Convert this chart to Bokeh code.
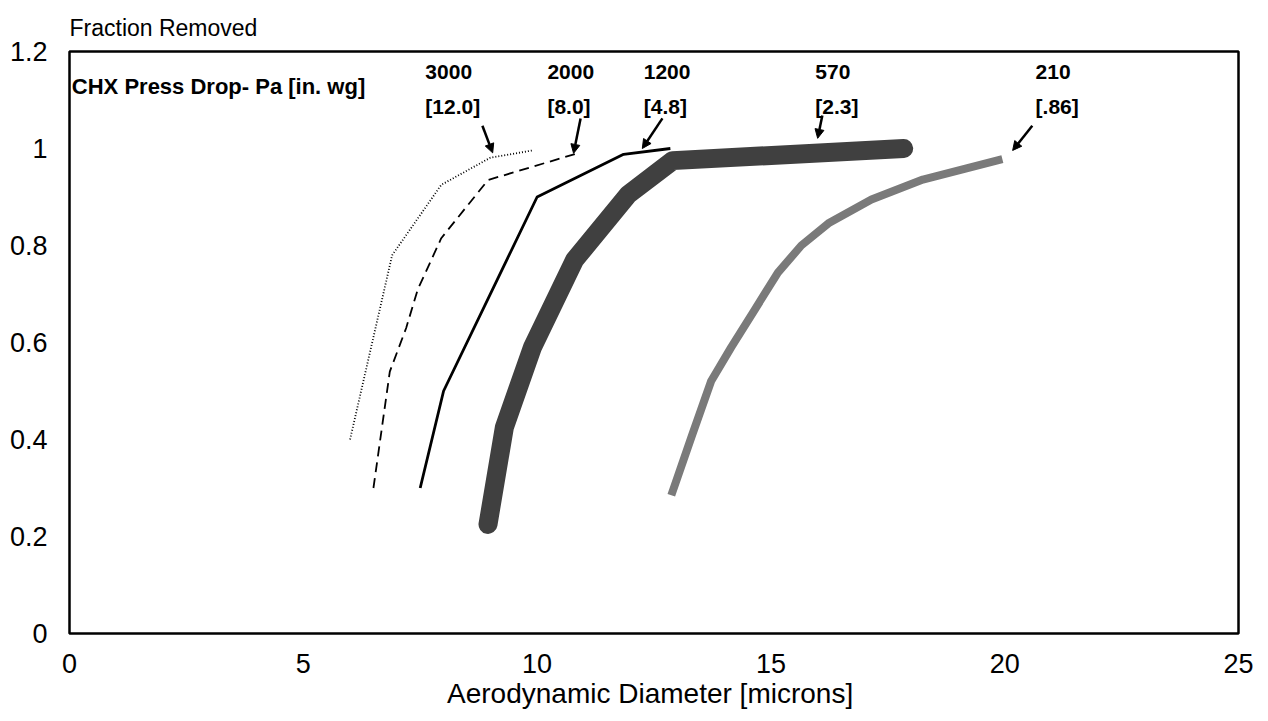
from bokeh.plotting import figure
from bokeh.models import Range1d, Label, Arrow, NormalHead, ColumnDataSource
from bokeh.core.properties import value
from bokeh.embed import file_html
from bokeh.resources import INLINE

# ---- data ----
x_3000 = [6.0, 6.9, 7.95, 9.0, 9.9]
y_3000 = [0.40, 0.78, 0.925, 0.981, 0.996]

x_2000 = [6.5, 6.85, 7.2, 7.45, 7.95, 8.95, 10.86]
y_2000 = [0.30, 0.54, 0.63, 0.71, 0.815, 0.935, 0.99]

x_1200 = [7.5, 8.0, 10.0, 11.85, 12.85]
y_1200 = [0.30, 0.50, 0.90, 0.988, 1.0]

x_570 = [8.95, 9.3, 9.9, 10.8, 11.95, 12.9, 17.84]
y_570 = [0.225, 0.425, 0.59, 0.77, 0.905, 0.975, 1.0]

x_210 = [12.87, 13.3, 13.72, 14.15, 14.65, 15.15, 15.65, 16.25, 17.15, 18.25, 19.95]
y_210 = [0.285, 0.405, 0.52, 0.59, 0.667, 0.744, 0.80, 0.847, 0.895, 0.936, 0.978]

series_top = ["3000", "2000", "1200", "570", "210"]
series_bottom = ["[12.0]", "[8.0]", "[4.8]", "[2.3]", "[.86]"]
label_x = [7.61, 10.22, 12.28, 15.95, 20.66]
arrow_start = [(8.83, 1.047), (10.93, 1.062), (12.68, 1.062), (16.10, 1.068), (20.59, 1.047)]
arrow_end = [(9.05, 0.991), (10.78, 0.990), (12.25, 1.0), (16.0, 1.021), (20.17, 0.996)]

y_ticks = [0, 0.2, 0.4, 0.6, 0.8, 1, 1.2]
x_ticks = [0, 5, 10, 15, 20, 25]

FONT = "Liberation Sans"

p = figure(width=1268, height=721, output_backend="svg", toolbar_location=None,
           x_range=Range1d(0, 25), y_range=Range1d(0, 1.2),
           min_border_left=69, min_border_right=30, min_border_top=51, min_border_bottom=88)

p.background_fill_color = "white"
p.border_fill_color = "white"
p.outline_line_color = "black"
p.outline_line_width = 2.5
p.xgrid.visible = False
p.ygrid.visible = False

p.title.text = "Fraction Removed"
p.title.text_font = FONT
p.title.text_font_size = "23px"
p.title.text_font_style = "normal"
p.title.text_color = "black"
p.title.align = "left"
p.title.offset = 0
p.title.standoff = 21

for ax in (p.xaxis[0], p.yaxis[0]):
    ax.axis_line_color = None
    ax.major_tick_line_color = None
    ax.minor_tick_line_color = None
    ax.major_label_text_font = FONT
    ax.major_label_text_font_size = "27px"
    ax.major_label_text_color = "black"

p.yaxis.ticker = y_ticks
p.yaxis.major_label_overrides = {0: "0", 0.2: "0.2", 0.4: "0.4", 0.6: "0.6", 0.8: "0.8", 1: "1", 1.2: "1.2"}
p.yaxis.major_label_standoff = 16
p.xaxis.ticker = x_ticks
p.xaxis.major_label_standoff = 14
p.xaxis.axis_label = "Aerodynamic  Diameter [microns]"
p.xaxis.axis_label_text_font = FONT
p.xaxis.axis_label_text_font_size = "28px"
p.xaxis.axis_label_text_font_style = "normal"
p.xaxis.axis_label_text_color = "black"
p.xaxis.axis_label_standoff = 2

# curves
p.line(x_210, y_210, line_color="#7a7a7a", line_width=8, line_cap="butt", line_join="round")
p.line(x_570, y_570, line_color="#404040", line_width=19, line_cap="round", line_join="round")
p.line(x_1200, y_1200, line_color="black", line_width=2.8, line_join="round")
p.line(x_2000, y_2000, line_color="black", line_width=1.8, line_dash="10 6")
p.line(x_3000, y_3000, line_color="black", line_width=1.8, line_dash="1 2")

# annotations
p.add_layout(Label(x=0.05, y=1.128, text="CHX Press Drop- Pa [in. wg]", text_font=FONT,
                   text_font_size="22px", text_font_style="bold", text_color="black",
                   text_baseline="middle", text_align="left"))
src = ColumnDataSource(dict(x=label_x, y1=[1.157] * 5, y2=[1.087] * 5, t1=series_top, t2=series_bottom))
p.text(x="x", y="y1", text="t1", source=src, text_font=value(FONT), text_font_size="21px",
       text_font_style="bold", text_align="left", text_baseline="middle", text_color="black")
p.text(x="x", y="y2", text="t2", source=src, text_font=value(FONT), text_font_size="21px",
       text_font_style="bold", text_align="left", text_baseline="middle", text_color="black")
for (xs, ys), (xe, ye) in zip(arrow_start, arrow_end):
    p.add_layout(Arrow(x_start=xs, y_start=ys, x_end=xe, y_end=ye, line_width=2.5, line_color="black",
                       end=NormalHead(size=9, fill_color="black", line_color="black")))

open("out.html", "w").write(file_html(p, INLINE))
